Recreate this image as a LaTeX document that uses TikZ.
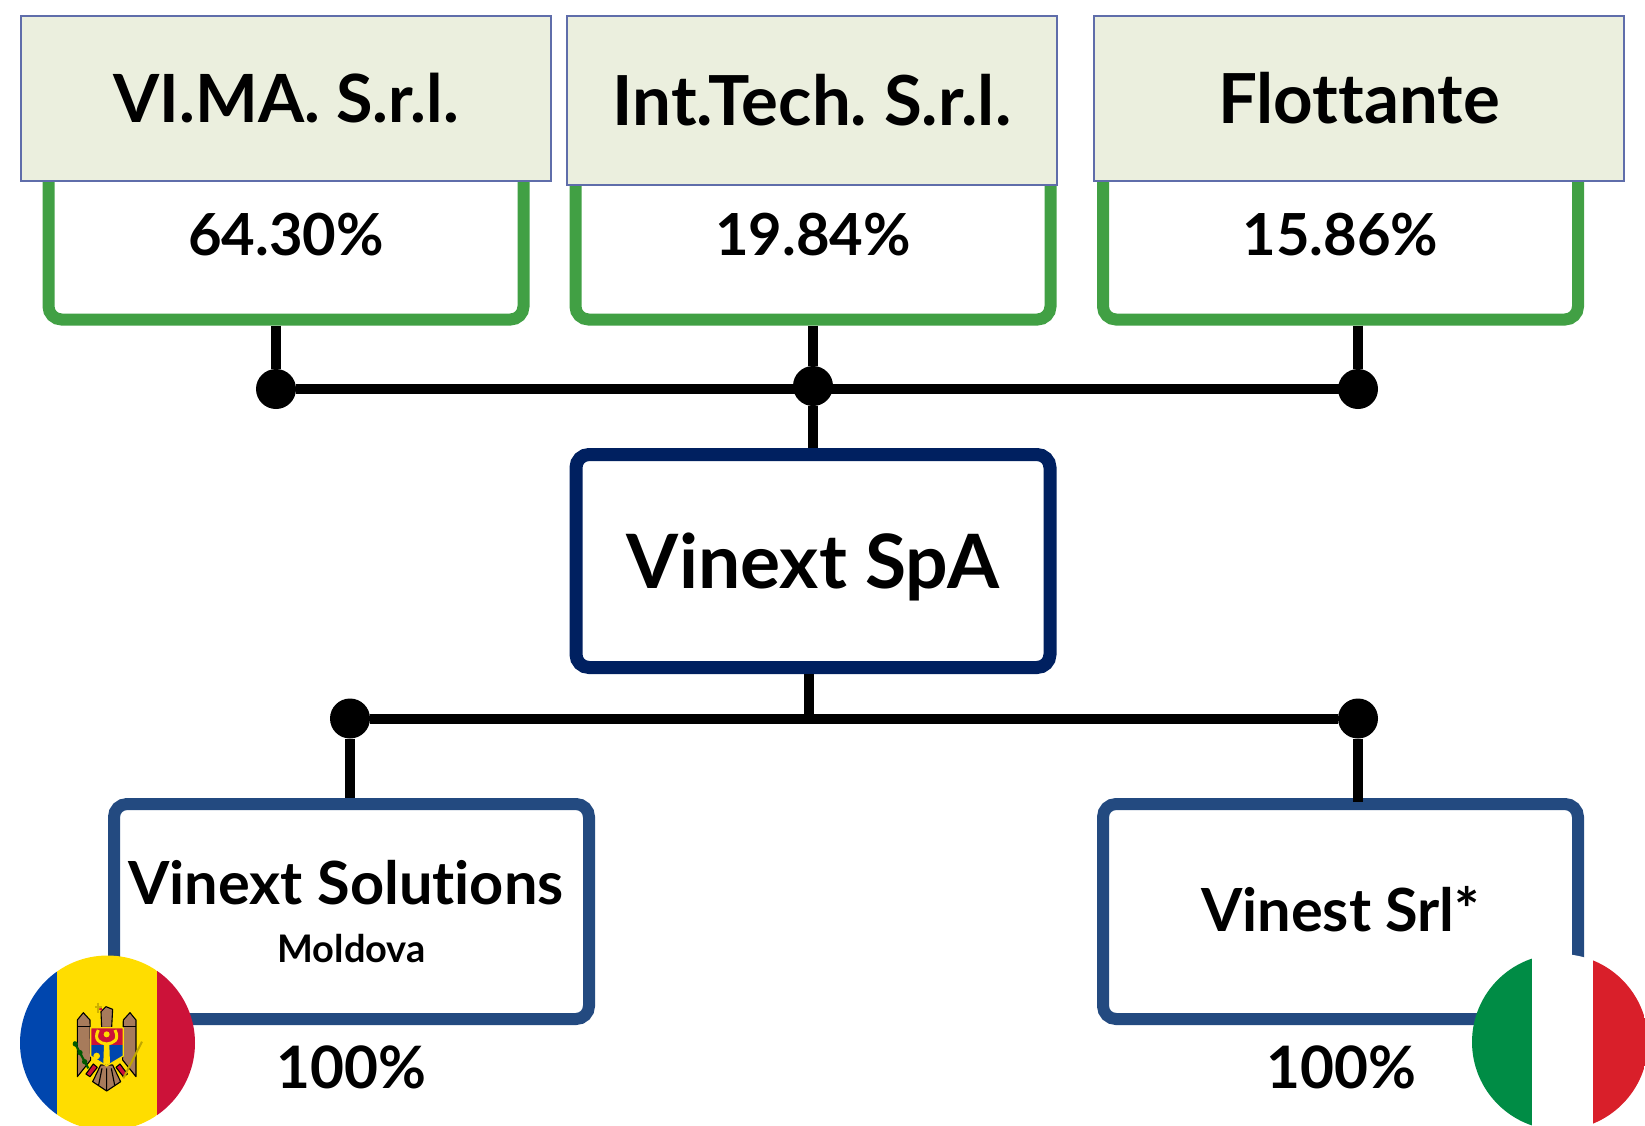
\documentclass[tikz,border=0pt]{standalone}
\usepackage{fontspec}
\setmainfont{Lato}[Ligatures=NoCommon]
\usetikzlibrary{positioning}
\definecolor{headfill}{HTML}{EBEFDE}
\definecolor{headline}{HTML}{5F6DAA}
\definecolor{holdgreen}{HTML}{41A044}
\definecolor{topnavy}{HTML}{002060}
\definecolor{subblue}{HTML}{234A80}
\definecolor{mdblue}{HTML}{0046AE}
\definecolor{mdyellow}{HTML}{FFDD00}
\definecolor{mdred}{HTML}{CC1239}
\definecolor{mdbrown}{HTML}{A77B5B}
\definecolor{itgreen}{HTML}{008C45}
\definecolor{itred}{HTML}{D91F2A}

\begin{document}
\frenchspacing
\begin{tikzpicture}[
        x=1pt,y=-1pt,
        head/.style={
          rectangle,
          fill=headfill,
          draw=headline,
          line width=1.5pt,
          inner sep=0pt,
          font=\fontsize{69}{72}\selectfont\bfseries
        },
        share/.style={
          rectangle,
          rounded corners=13pt,
          draw=holdgreen,
          fill=white,
          line width=12pt,
          minimum width=475pt,
          minimum height=169pt,
          inner sep=0pt,
          font=\fontsize{58}{60}\selectfont\bfseries
        },
        parent/.style={
          rectangle,
          rounded corners=13pt,
          draw=topnavy,
          fill=white,
          line width=13pt,
          minimum width=474pt,
          minimum height=213pt,
          text depth=0pt,
          font=\fontsize{75}{80}\selectfont\bfseries
        },
        child/.style={
          rectangle,
          rounded corners=13pt,
          draw=subblue,
          fill=white,
          line width=12pt,
          minimum width=475pt,
          minimum height=215pt,
          inner sep=0pt,
          align=center,
          font=\fontsize{59.5}{62}\selectfont\bfseries
        },
        stake/.style={font=\fontsize{58.5}{60}\selectfont\bfseries},
        joint/.style={circle,fill=black,minimum size=40pt,inner sep=0pt},
        wire/.style={line width=10pt,black}
      ]
      \useasboundingbox (0,0) rectangle (1645,1125);
      % holdings
      \node[share] (vimabox) at (286,235) {64.30\%};
      \node[share] (intbox) at (813,235) {19.84\%};
      \node[share] (flotbox) at (1340.5,235) {15.86\%};
      \node[head,minimum width=530pt,minimum height=165pt,font=\fontsize{66.5}{72}\selectfont\bfseries] (vima) at (286,98.5) {VI.MA. S.r.l.};
      \node[head,minimum width=490pt,minimum height=169pt] (int) at (812,100.5) {Int.Tech. S.r.l.};
      \node[head,minimum width=530pt,minimum height=165pt] (flot) at (1359,98.5) {Flottante};
      \node[parent] (vinext) at (813,561) {Vinext SpA};
      % subsidiaries
      \node[child] (solutions) at (351.5,911.5) {Vinext Solutions\hspace*{11pt}\\[-4pt]{\fontsize{38}{40}\selectfont\bfseries Moldova}};
      \node[child,text depth=6pt] (vinest) at (1340.5,911.5) {Vinest Srl*};
      \node[stake,below=17pt of solutions] (solpct) {100\%};
      \node[stake,xshift=1pt,below=17pt of vinest] (vinpct) {100\%};
      % junctions
      \node[joint] (jvima) at (276,389) {};
      \node[joint] (jint) at (813,386) {};
      \node[joint] (jflot) at (1358,389) {};
      \node[joint] (jsol) at (350,718.5) {};
      \node[joint] (jvin) at (1358,718.5) {};
      \coordinate (jtop) at (809,718.5);
      \draw[wire] (jvima) -- (jvima -| jflot);
      \draw[wire] (jvima |- vimabox.south) -- (jvima);
      \draw[wire] (jint |- intbox.south) -- (jint);
      \draw[wire] (jflot |- flotbox.south) -- (jflot);
      \draw[wire] (jint) -- (jint |- vinext.north);
      \draw[wire] (jtop |- vinext.south) -- (jtop);
      \draw[wire] (jsol) -- (jvin);
      \draw[wire] (jsol) -- (jsol |- solutions.north);
      \draw[wire] (jvin) -- (1358,802);
      % flag of Moldova
      \begin{scope}
        \clip (107.5,1043) circle (87.5);
        \fill[mdblue] (15,950) rectangle (57,1130);
        \fill[mdyellow] (57,950) rectangle (157,1130);
        \fill[mdred] (157,950) rectangle (200,1130);
      \end{scope}
      \begin{scope}[shift={(0,930)},x=0.3333pt,y=-0.3333pt,line width=1.1pt,line join=round]
        \draw[fill=mdbrown] (232,440) -- (232,270) -- (250,248) -- (270,270) -- (272,390) -- cycle;
        \draw[fill=mdbrown] (408,440) -- (408,270) -- (390,248) -- (370,270) -- (368,390) -- cycle;
        \draw (232,290) -- (270,290) (370,290) -- (408,290);
        \draw[fill=mdbrown] (305,292) -- (303,245) -- (318,230) -- (338,238) -- (335,292) -- cycle;
        \fill[mdred] (293,236) -- (306,234) -- (306,243) -- cycle;
        \draw[mdyellow!80!black,line width=2pt] (295,218) -- (295,250) (285,230) -- (306,230);
        \draw[fill=mdbrown] (278,455) -- (320,483) -- (362,455) -- (338,405) -- (302,405) -- cycle;
        \draw (320,415) -- (320,483) (306,415) -- (296,465) (334,415) -- (344,465);
        \fill[mdyellow] (270,412) -- (290,405) -- (280,445) -- cycle (370,412) -- (350,405) -- (360,445) -- cycle;
        \draw[fill=mdred] (258,432) -- (270,440) -- (292,412) -- (280,402) -- cycle;
        \draw[fill=mdred] (382,432) -- (370,440) -- (348,412) -- (360,402) -- cycle;
        \draw[green!35!black,line width=2.2pt] (222,335) -- (265,415);
        \fill[green!35!black] (226,342) circle (8) (240,368) circle (8) (254,395) circle (8);
        \draw[mdyellow!75!black,line width=2pt] (370,445) -- (426,335);
        \fill[mdred] (272,293) rectangle (370,345);
        \fill[mdblue] (272,345) -- (370,345) -- (370,378) -- (320,408) -- (272,378) -- cycle;
        \draw[mdyellow,line width=1.2pt] (272,293) -- (370,293) -- (370,378) -- (320,408) -- (272,378) -- cycle;
        \fill[mdyellow] (312,345) -- (328,345) -- (330,400) -- (320,405) -- (310,400) -- cycle;
        \draw[mdyellow,line width=3pt] (295,300) .. controls (280,330) and (300,340) .. (320,342) .. controls (340,340) and (360,330) .. (345,300);
        \fill[mdyellow] (320,313) circle (9);
        \fill[mdyellow] (290,378) circle (10);
      \end{scope}
      % flag of Italy
      \begin{scope}
        \clip (1560,1042) circle (88);
        \fill[itgreen] (1465,950) rectangle (1532,1135);
        \fill[white] (1532,950) rectangle (1593,1135);
        \fill[itred] (1593,950) rectangle (1650,1135);
      \end{scope}
      \end{tikzpicture}
\end{document}
